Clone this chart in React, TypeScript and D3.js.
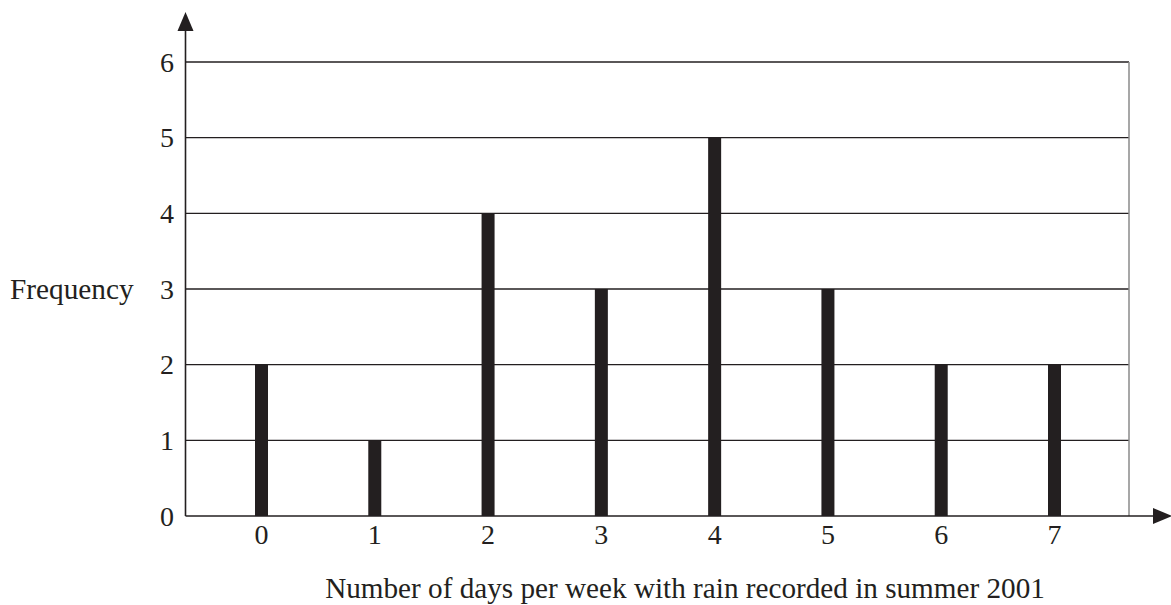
import React from "react";
import * as d3 from "d3";

const categories = [0, 1, 2, 3, 4, 5, 6, 7];
const frequencies = [2, 1, 4, 3, 5, 3, 2, 2];
const yTicks = [0, 1, 2, 3, 4, 5, 6];
const xTitle = "Number of days per week with rain recorded in summer 2001";
const yTitle = "Frequency";

export default function App() {
  const W = 1171, H = 605;
  const axisX = 185.5, baseY = 516, topY = 62, rightX = 1129;
  const x = d3.scaleLinear().domain([0, 7]).range([261.5, 1054.5]);
  const y = d3.scaleLinear().domain([0, 6]).range([baseY, topY]);
  const font = "'Liberation Serif', 'Times New Roman', serif";
  const ink = "#231f20";
  const barW = 13;
  return (
    <svg width={W} height={H} style={{ position: "absolute", left: 0, top: 0, background: "#fff" }}>
      {yTicks.slice(1).map((t) => (
        <line key={t} x1={axisX} x2={rightX} y1={y(t)} y2={y(t)} stroke={ink} strokeWidth={1.3} />
      ))}
      <line x1={rightX} x2={rightX} y1={topY} y2={baseY} stroke="#8a8a8a" strokeWidth={1.5} />
      {categories.map((c, i) => (
        <rect key={c} x={x(c) - barW / 2} y={y(frequencies[i])} width={barW} height={baseY - y(frequencies[i])} fill={ink} />
      ))}
      <line x1={axisX} x2={axisX} y1={26} y2={baseY} stroke={ink} strokeWidth={1.6} />
      <path d={`M${axisX},12 L${axisX - 8},31 L${axisX + 8},31 Z`} fill={ink} />
      <line x1={axisX} x2={1160} y1={baseY} y2={baseY} stroke={ink} strokeWidth={1.6} />
      <path d={`M1172,${baseY} L1153,${baseY - 8} L1153,${baseY + 8} Z`} fill={ink} />
      {yTicks.map((t) => (
        <text key={t} x={174} y={y(t) + 9.5} textAnchor="end" fontFamily={font} fontSize={28} fill={ink}>{t}</text>
      ))}
      {categories.map((c) => (
        <text key={c} x={x(c)} y={544} textAnchor="middle" fontFamily={font} fontSize={28} fill={ink}>{c}</text>
      ))}
      <text x={10} y={299} fontFamily={font} fontSize={29.3} fill={ink}>{yTitle}</text>
      <text x={685} y={598} textAnchor="middle" fontFamily={font} fontSize={29.2} fill={ink}>{xTitle}</text>
    </svg>
  );
}
